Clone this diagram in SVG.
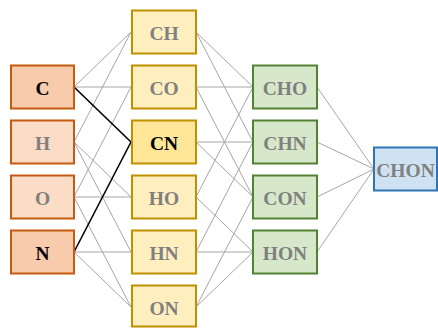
<svg xmlns="http://www.w3.org/2000/svg" width="438" height="328" viewBox="0 0 438 328">
<style>
rect{stroke-width:2}
text{font-family:"Liberation Serif","Times New Roman",serif;font-weight:bold;font-size:19.5px;text-anchor:middle;fill:#808080}
text.on{fill:#000}
.l1 rect{stroke:#c55a11;fill:#fbdcc6}
.l1 rect.on{fill:#f8cbad}
.l2 rect{stroke:#bf9000;fill:#ffefbf}
.l2 rect.on{fill:#ffe699}
.l3 rect{stroke:#548235;fill:#d6e8c9}
.l4 rect{stroke:#2e75b6;fill:#cfe2f3}
#edges line{stroke:#a6a6a6;stroke-width:1}
#edges line.on{stroke:#000;stroke-width:1.6}
</style>
<rect width="438" height="328" fill="#fff"/>
<g id="edges">
<line x1="74" y1="87" x2="131" y2="32"/>
<line x1="74" y1="87" x2="131" y2="87"/>
<line x1="74" y1="142" x2="131" y2="32"/>
<line x1="74" y1="142" x2="131" y2="197"/>
<line x1="74" y1="142" x2="131" y2="252"/>
<line x1="74" y1="197" x2="131" y2="87"/>
<line x1="74" y1="197" x2="131" y2="197"/>
<line x1="74" y1="197" x2="131" y2="307"/>
<line x1="74" y1="252" x2="131" y2="252"/>
<line x1="74" y1="252" x2="131" y2="307"/>
<line x1="196" y1="32" x2="253" y2="87"/>
<line x1="196" y1="32" x2="253" y2="142"/>
<line x1="196" y1="87" x2="253" y2="87"/>
<line x1="196" y1="87" x2="253" y2="197"/>
<line x1="196" y1="142" x2="253" y2="142"/>
<line x1="196" y1="142" x2="253" y2="197"/>
<line x1="196" y1="197" x2="253" y2="87"/>
<line x1="196" y1="197" x2="253" y2="252"/>
<line x1="196" y1="252" x2="253" y2="142"/>
<line x1="196" y1="252" x2="253" y2="252"/>
<line x1="196" y1="307" x2="253" y2="197"/>
<line x1="196" y1="307" x2="253" y2="252"/>
<line x1="317" y1="87" x2="374" y2="169"/>
<line x1="317" y1="142" x2="374" y2="169"/>
<line x1="317" y1="197" x2="374" y2="169"/>
<line x1="317" y1="252" x2="374" y2="169"/>
<line class="on" x1="74" y1="87" x2="131" y2="142"/>
<line class="on" x1="74" y1="252" x2="131" y2="142"/>
</g>
<g class="l1">
<g id="C"><rect class="on" x="11" y="65.5" width="63" height="43"/><text class="on" x="42.5" y="94.5">C</text></g>
<g id="H"><rect x="11" y="120.5" width="63" height="43"/><text x="42.5" y="149.5">H</text></g>
<g id="O"><rect x="11" y="175.5" width="63" height="43"/><text x="42.5" y="204.5">O</text></g>
<g id="N"><rect class="on" x="11" y="230.5" width="63" height="43"/><text class="on" x="42.5" y="259.5">N</text></g>
</g>
<g class="l2">
<g id="CH"><rect x="132" y="10.5" width="64" height="43"/><text x="164" y="39.5">CH</text></g>
<g id="CO"><rect x="132" y="65.5" width="64" height="43"/><text x="164" y="94.5">CO</text></g>
<g id="CN"><rect class="on" x="132" y="120.5" width="64" height="43"/><text class="on" x="164" y="149.5">CN</text></g>
<g id="HO"><rect x="132" y="175.5" width="64" height="43"/><text x="164" y="204.5">HO</text></g>
<g id="HN"><rect x="132" y="230.5" width="64" height="43"/><text x="164" y="259.5">HN</text></g>
<g id="ON"><rect x="132" y="285.5" width="64" height="41"/><text x="164" y="314.5">ON</text></g>
</g>
<g class="l3">
<g id="CHO"><rect x="253" y="65.5" width="64" height="43"/><text x="285" y="94.5">CHO</text></g>
<g id="CHN"><rect x="253" y="120.5" width="64" height="43"/><text x="285" y="149.5">CHN</text></g>
<g id="CON"><rect x="253" y="175.5" width="64" height="43"/><text x="285" y="204.5">CON</text></g>
<g id="HON"><rect x="253" y="230.5" width="64" height="43"/><text x="285" y="259.5">HON</text></g>
</g>
<g class="l4">
<g id="CHON"><rect x="374" y="147.5" width="63" height="43"/><text x="405.5" y="176.5">CHON</text></g>
</g>
</svg>
